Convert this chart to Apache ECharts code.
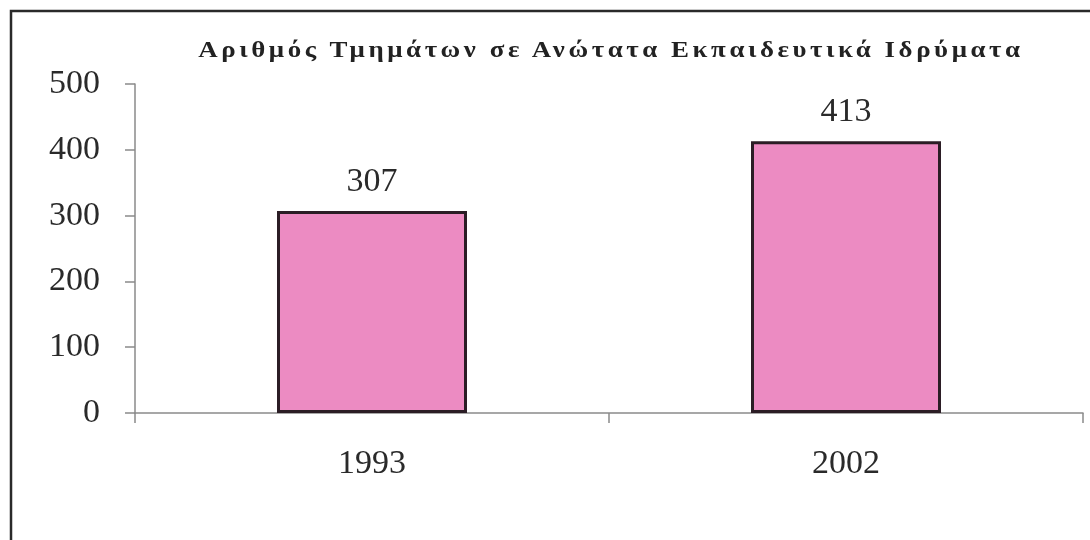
<!DOCTYPE html>
<html>
<head>
<meta charset="utf-8">
<script src="https://cdn.jsdelivr.net/npm/echarts@6/dist/echarts.min.js"></script>
<style>
  html, body { margin: 0; padding: 0; background: #fff; }
  #wrap { position: relative; width: 1090px; height: 540px; }
  #main { width: 1090px; height: 540px; }
  #title {
    position: absolute; left: 0; width: 1222px; top: 35px;
    text-align: center;
    font-family: "Liberation Serif", "DejaVu Serif", serif;
    font-weight: bold; font-size: 24px; line-height: 28px; color: #222;
    letter-spacing: 3.2px; white-space: nowrap;
    transform: scaleX(1.12); transform-origin: 611px 0;
  }
</style>
</head>
<body>
<div id="wrap">
  <div id="main"></div>
  <div id="title">Αριθμός Τμημάτων σε Ανώτατα Εκπαιδευτικά Ιδρύματα</div>
</div>
<script>
// δεδομένα
var years = ['1993', '2002'];
var tmimata = [307, 413];

var myChartContainer = document.getElementById('main');
var myChart = echarts.init(myChartContainer);

var serif = '"Liberation Serif", "DejaVu Serif", serif';

var option = {
    animation: false,
    backgroundColor: '#fff',
    grid: {
        left: 135,
        right: 7,
        top: 84,
        bottom: 127
    },
    // πλαίσιο γύρω από το γράφημα
    graphic: [{
        type: 'rect',
        shape: { x: 11, y: 11, width: 1200, height: 700 },
        style: { fill: 'none', stroke: '#2a2a2a', lineWidth: 2.5 },
        silent: true
    }],
    xAxis: {
        type: 'category',
        data: years,
        axisLine: { lineStyle: { color: '#8a8a8a', width: 1.5 } },
        axisTick: { show: true, length: 10, lineStyle: { color: '#8a8a8a', width: 1.5 } },
        axisLabel: {
            margin: 34,
            fontFamily: serif,
            fontSize: 34,
            color: '#2a2a2a'
        }
    },
    yAxis: {
        type: 'value',
        min: 0,
        max: 500,
        interval: 100,
        splitLine: { show: false },
        axisLine: { show: true, lineStyle: { color: '#8a8a8a', width: 1.5 } },
        axisTick: { show: true, length: 10, lineStyle: { color: '#8a8a8a', width: 1.5 } },
        axisLabel: {
            margin: 35,
            fontFamily: serif,
            fontSize: 34,
            color: '#2a2a2a'
        }
    },
    series: [{
        type: 'bar',
        data: tmimata,
        barWidth: 190,
        itemStyle: {
            color: '#ec8bc2',
            borderColor: '#2b1d25',
            borderWidth: 3
        },
        label: {
            show: true,
            position: 'top',
            distance: 12,
            fontFamily: serif,
            fontSize: 34,
            color: '#2a2a2a'
        }
    }]
};

myChart.setOption(option);
</script>
</body>
</html>
